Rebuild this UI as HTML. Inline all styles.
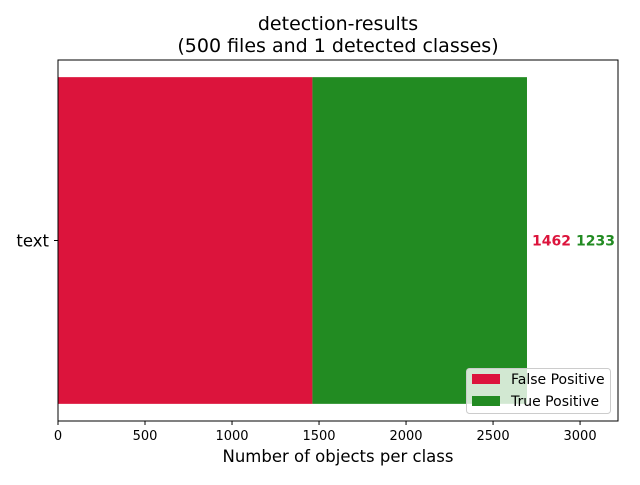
<!DOCTYPE html>
<html><head><meta charset="utf-8"><style>
body{margin:0;background:#fff;}
svg{font-family:"DejaVu Sans","Liberation Sans",sans-serif;}
</style></head><body>
<svg id="c" width="640" height="480">
<text x="338" y="30" font-size="19" text-anchor="middle">detection-results</text>
<text x="338" y="52" font-size="19" text-anchor="middle">(500 files and 1 detected classes)</text>
<g id="bars"></g>
<g id="ticks"></g>
<rect x="58" y="60" width="560" height="361" fill="none" stroke="#000" stroke-width="1"/>
<text x="338" y="462" font-size="16.5" text-anchor="middle">Number of objects per class</text>
<g>
<rect x="466.5" y="368.5" width="144" height="45" rx="3" fill="#fff" fill-opacity="0.8" stroke="#ccc"/>
<rect x="472" y="374" width="28" height="10" fill="crimson"/>
<text x="511" y="384" font-size="14">False Positive</text>
<rect x="472" y="396" width="28" height="10" fill="forestgreen"/>
<text x="511" y="406" font-size="14">True Positive</text>
</g>
</svg>
<script>
const categories=["text"];
const falsePositive=[1462];
const truePositive=[1233];
const xTicks=[0,500,1000,1500,2000,2500,3000];
const NS="http://www.w3.org/2000/svg";
const x0=58,x1=618,xMax=3218,yTop=60,yBot=421;
const xs=v=>x0+v/xMax*(x1-x0);
function mk(t,a,p){const e=document.createElementNS(NS,t);for(const k in a)e.setAttribute(k,a[k]);p.appendChild(e);return e;}
const bars=document.getElementById('bars'),ticks=document.getElementById('ticks');
const band=(yBot-yTop)/categories.length;
categories.forEach((c,i)=>{
 const cy=yTop+band*(i+0.5),h=band*0.905;
 const fp=falsePositive[i],tp=truePositive[i];
 let r=mk('rect',{x:xs(0),y:cy-h/2,width:xs(fp)-xs(0),height:h,fill:'crimson'},bars);
 
 
 r=mk('rect',{x:xs(fp),y:cy-h/2,width:xs(fp+tp)-xs(fp),height:h,fill:'forestgreen'},bars);
 
 
 let t=mk('text',{x:xs(fp+tp)+5,y:cy+5,'font-size':14,'font-weight':'bold',fill:'crimson'},bars);t.textContent=fp;
 
 
 t=mk('text',{x:xs(fp+tp)+49,y:cy+5,'font-size':14,'font-weight':'bold',fill:'forestgreen'},bars);t.textContent=tp;
 
 
 mk('line',{x1:x0-4,x2:x0,y1:cy,y2:cy,stroke:'#000'},ticks);
 t=mk('text',{x:x0-9,y:cy+6,'font-size':16.5,'text-anchor':'end'},ticks);t.textContent=c;
 
 
});
xTicks.forEach(v=>{
 const x=xs(v);
 mk('line',{x1:x,x2:x,y1:yBot,y2:yBot+4,stroke:'#000'},ticks);
 const t=mk('text',{x:x,y:yBot+19,'font-size':13,'text-anchor':'middle'},ticks);t.textContent=v;
 
 
});
</script>
</body></html>
